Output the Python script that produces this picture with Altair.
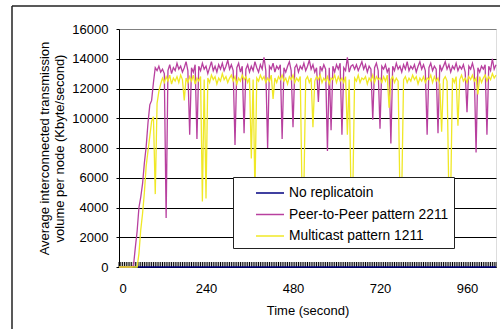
import altair as alt
import pandas as pd

# ---- data ----
times = list(range(0, 1045, 5))  # seconds, 0..1040

p2p = [
    0, 0, 0, 0, 0, 0, 0, 0, 100, 1300,
    2400, 4000, 4700, 5600, 7000, 8100, 9700, 10900, 11200, 12400,
    13400, 13200, 13500, 13100, 13300, 13000, 3300, 13200, 13600, 13000,
    13400, 13200, 13700, 13300, 13500, 13100, 13400, 13800, 13200, 8900,
    13400, 13100, 13600, 8600, 13500, 13200, 13700, 13300, 13500, 13000,
    13400, 13800, 13200, 13500, 13100, 13600, 13300, 13700, 13200, 13500,
    13900, 13300, 13600, 13200, 8200, 13400, 13700, 13100, 13500, 9000,
    13300, 13600, 13100, 13500, 13200, 13800, 13400, 13100, 13600, 13300,
    14100, 13200, 8000, 13500, 13300, 13700, 13100, 13500, 13300, 13600,
    8600, 13400, 13100, 13500, 13800, 13200, 9400, 13400, 13600, 13100,
    13500, 13300, 13700, 13200, 13500, 13900, 13300, 13600, 13100, 13400,
    11100, 13500, 13200, 13600, 13300, 7800, 13400, 9200, 13500, 13100,
    13600, 13300, 13700, 8900, 13400, 13200, 14100, 13100, 13500, 13600,
    13300, 13600, 13200, 13500, 13800, 13300, 13600, 13100, 13500, 13300,
    9900, 13400, 13700, 13200, 9300, 13500, 13300, 13600, 13100, 13400,
    8300, 13500, 13200, 13700, 13300, 13500, 13100, 13600, 13300, 13800,
    13200, 13500, 13300, 13600, 13100, 13500, 13800, 13300, 13600, 13200,
    8900, 13400, 13700, 13200, 13500, 13300, 9000, 13600, 13200, 13500,
    13800, 13300, 13600, 13100, 13500, 13300, 13700, 13200, 13500, 13300,
    13600, 13100, 10400, 13500, 13300, 13700, 13200, 7700, 13400, 13100,
    13500, 13300, 13600, 8900, 13500, 13200, 14000, 13300, 13600,
]

multicast = [
    0, 0, 0, 0, 0, 0, 0, 0, 0, 0,
    0, 900, 2500, 3600, 5000, 6800, 7800, 8800, 9800, 10100,
    4900, 11000, 11800, 12300, 12700, 12400, 12800, 12500, 12900, 12300,
    12700, 12500, 12800, 12400, 12900, 12600, 11200, 12700, 12400, 12800,
    12500, 12900, 12300, 12700, 12500, 12800, 4400, 12600, 4600, 12700,
    12400, 12900, 12600, 12800, 12300, 12700, 12500, 13000, 12600, 12800,
    12400, 12700, 12900, 12500, 12800, 12300, 12700, 12500, 12900, 12600,
    12800, 12400, 12700, 7300, 12600, 5000, 12700, 12500, 12900, 12600,
    12800, 12400, 12700, 12500, 12900, 11300, 12700, 12400, 12800, 12600,
    12900, 12500, 12700, 12300, 12800, 12600, 12900, 12400, 12700, 12500,
    12800, 4800, 5200, 12600, 12800, 12400, 12700, 9400, 12500, 12800,
    12600, 12900, 12400, 12700, 12500, 12800, 12300, 12700, 12600, 12900,
    12400, 12800, 12500, 12700, 12400, 12800, 8900, 12600, 4800, 5000,
    12700, 12500, 12900, 12400, 12700, 12600, 12800, 12300, 12700, 12500,
    12900, 12400, 12800, 12600, 12700, 12400, 12800, 12500, 12900, 10700,
    12600, 12800, 12400, 12700, 12500, 4800, 5000, 12600, 12800, 12400,
    12700, 12500, 12900, 12600, 12800, 12300, 12700, 12500, 12800, 12400,
    12700, 12600, 12900, 12400, 12800, 12500, 12700, 12300, 9100, 12600,
    12800, 12500, 4700, 4900, 12700, 12400, 12800, 9500, 12600, 12900,
    12500, 12700, 12400, 12800, 12600, 12900, 12500, 12700, 11600, 12800,
    12400, 12700, 12900, 12500, 12800, 12600, 13000, 12700, 12900,
]

no_replication = [0 for _ in times]

series_names = ["No replicatoin", "Peer-to-Peer pattern 2211", "Multicast pattern 1211"]
series_colors = ["#000080", "#B8409F", "#F0E826"]
x_ticks = [0, 240, 480, 720, 960]
y_ticks = [0, 2000, 4000, 6000, 8000, 10000, 12000, 14000, 16000]

# ---- build table ----
rows = []
for name, vals in zip(series_names, [no_replication, p2p, multicast]):
    for t, v in zip(times, vals):
        rows.append({"time": t, "value": v, "series": name})
df = pd.DataFrame(rows)

W, H = 377, 238
FONT = "Liberation Sans"

x_axis = alt.Axis(values=x_ticks, title="Time (second)", grid=False,
                  tickSize=0, labelPadding=15, titlePadding=9,
                  domainColor="#000000", labelFontSize=13,
                  titleFontSize=13, titleFontWeight="normal",
                  labelColor="#000000", titleColor="#000000",
                  labelFont=FONT, titleFont=FONT)
x_scale = alt.Scale(domain=[0, 1040], nice=False, zero=False)

lines = alt.Chart(df).mark_line(strokeWidth=1.3).encode(
    x=alt.X("time:Q", scale=x_scale, axis=x_axis),
    y=alt.Y("value:Q",
            scale=alt.Scale(domain=[0, 16000], nice=False),
            axis=alt.Axis(values=y_ticks, format="d",
                          title=["Average interconnected transmission",
                                 "volume per node (Kbyte/second)"],
                          grid=True,
                          gridColor={"condition": {"test": "datum.value === 16000", "value": "#808080"},
                                     "value": "#000000"},
                          gridWidth=1, tickSize=3, tickColor="#000000",
                          domainColor="#000000", labelPadding=8,
                          titlePadding=5, labelFontSize=13, titleFontSize=13,
                          titleFontWeight="normal", labelColor="#000000",
                          titleColor="#000000", labelFont=FONT, titleFont=FONT,
                          titleLineHeight=15)),
    color=alt.Color("series:N",
                    scale=alt.Scale(domain=series_names, range=series_colors),
                    legend=alt.Legend(orient="none", legendX=114, legendY=148,
                                      title=None, symbolType="M-1.4,0H1.4",
                                      symbolSize=400, symbolStrokeWidth=1.5,
                                      symbolOffset=21, labelOffset=8,
                                      labelFontSize=13.8, labelFont=FONT,
                                      labelColor="#000000",
                                      fillColor="#FFFFFF", strokeColor="#222222",
                                      padding=5, rowPadding=3.5)),
)

tick_df = pd.DataFrame({"time": times})
ticks = alt.Chart(tick_df).mark_rule(color="#000000", strokeWidth=1).encode(
    x=alt.X("time:Q", scale=x_scale, axis=x_axis),
    y=alt.value(H - 5),
    y2=alt.value(H),
)

frame_df = pd.DataFrame({"k": [0]})
left_border = alt.Chart(frame_df).mark_rule(color="#222222", strokeWidth=1.5).encode(
    x=alt.value(-107), y=alt.value(-23), y2=alt.value(310))
top_border = alt.Chart(frame_df).mark_rule(color="#222222", strokeWidth=1.5).encode(
    x=alt.value(-107), x2=alt.value(390), y=alt.value(-23))

chart = alt.layer(ticks, lines, left_border, top_border).properties(
    width=W, height=H,
    padding={"left": 119, "top": 29, "right": 4, "bottom": 62},
    autosize=alt.AutoSizeParams(type="none"),
).configure_view(
    fill="#C0C0C0", stroke="#808080", strokeWidth=1
).configure(background="#FFFFFF")

chart.save("out.html", embed_options={"renderer": "svg", "actions": False})
